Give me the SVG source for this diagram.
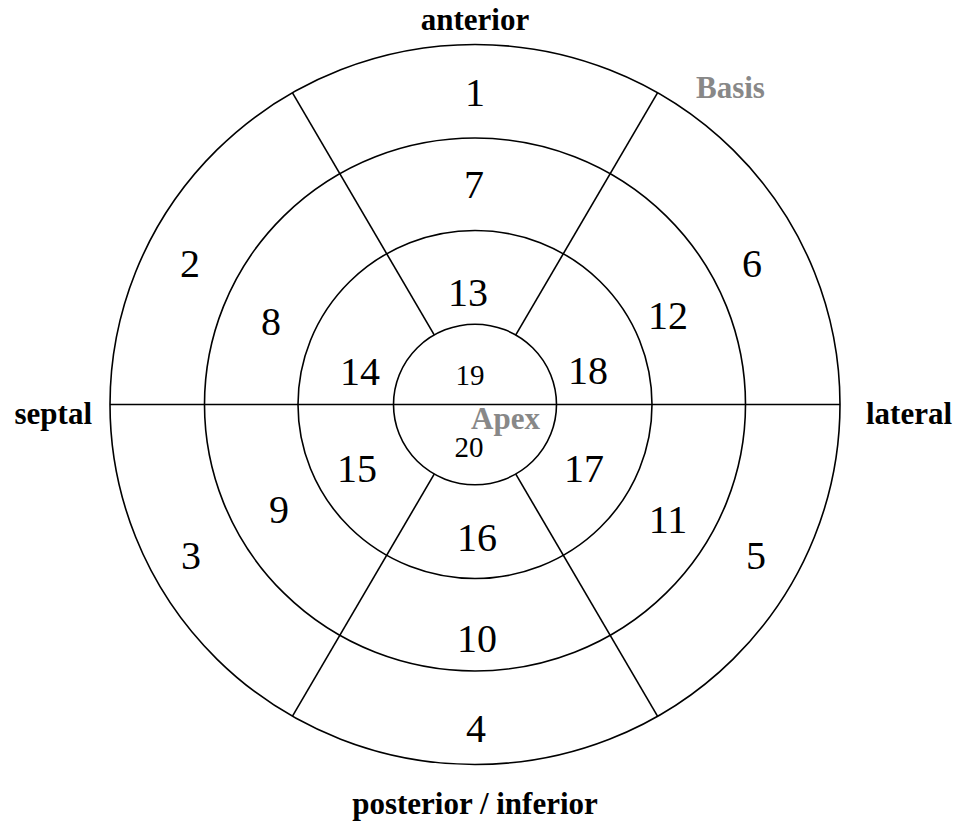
<svg xmlns="http://www.w3.org/2000/svg" width="958" height="825" viewBox="0 0 958 825">
<style>
.ring{fill:none;stroke:#000;stroke-width:1.6}
.div{stroke:#000;stroke-width:1.6}
.num{font-family:"Liberation Serif","Times New Roman",serif;font-size:40px;fill:#000;text-anchor:middle}
.small{font-size:29px}
.dir{font-family:"Liberation Serif","Times New Roman",serif;font-size:31px;font-weight:bold;fill:#000}
.grey{font-family:"Liberation Serif","Times New Roman",serif;font-size:31px;font-weight:bold;fill:#888}
</style>
<rect width="958" height="825" fill="#fff"/>
<g id="rings">
<ellipse class="ring" cx="475" cy="404.5" rx="365" ry="360"/>
<ellipse class="ring" cx="475" cy="404.5" rx="270.5" ry="266.5"/>
<ellipse class="ring" cx="475" cy="404.5" rx="177" ry="174"/>
<ellipse class="ring" cx="475" cy="404.5" rx="81.5" ry="80.3"/>
</g>
<g id="connectors">
<line class="div" x1="110" y1="404.5" x2="840" y2="404.5"/>
<line class="div" x1="434.2" y1="334.9" x2="292.5" y2="92.8"/>
<line class="div" x1="515.8" y1="334.9" x2="657.5" y2="92.8"/>
<line class="div" x1="434.2" y1="474.1" x2="292.5" y2="716.2"/>
<line class="div" x1="515.8" y1="474.1" x2="657.5" y2="716.2"/>
</g>
<g id="basal">
<text class="num" x="475" y="106">1</text>
<text class="num" x="190" y="277">2</text>
<text class="num" x="191" y="569">3</text>
<text class="num" x="476" y="742">4</text>
<text class="num" x="756" y="569">5</text>
<text class="num" x="752" y="277">6</text>
</g>
<g id="mid">
<text class="num" x="474" y="198">7</text>
<text class="num" x="271" y="335">8</text>
<text class="num" x="279" y="523">9</text>
<text class="num" x="477" y="652">10</text>
<text class="num" x="668" y="533">11</text>
<text class="num" x="668" y="329">12</text>
</g>
<g id="apical">
<text class="num" x="468" y="306">13</text>
<text class="num" x="360" y="385">14</text>
<text class="num" x="357" y="482">15</text>
<text class="num" x="477" y="551">16</text>
<text class="num" x="584" y="482">17</text>
<text class="num" x="588" y="384">18</text>
</g>
<g id="apex">
<text class="num small" x="470" y="385">19</text>
<text class="num small" x="469" y="457">20</text>
<text class="grey" x="471" y="429">Apex</text>
</g>
<g id="labels">
<text class="dir" x="475" y="30" text-anchor="middle">anterior</text>
<text class="dir" x="92" y="424" text-anchor="end">septal</text>
<text class="dir" x="866" y="424">lateral</text>
<text class="dir" x="475" y="814" text-anchor="middle">posterior / inferior</text>
<text class="grey" x="696" y="98">Basis</text>
</g>
</svg>
